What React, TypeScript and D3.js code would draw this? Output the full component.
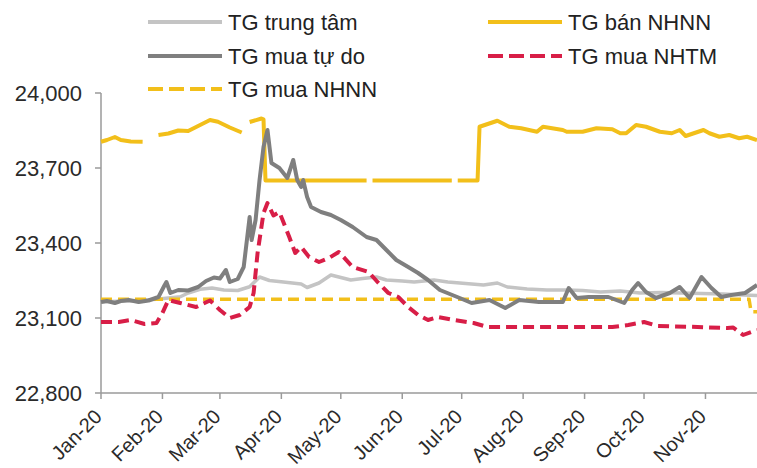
import React from "react";
import * as d3 from "d3";

// ---------- DATA ----------
const monthTicks = ["Jan-20","Feb-20","Mar-20","Apr-20","May-20","Jun-20","Jul-20","Aug-20","Sep-20","Oct-20","Nov-20"];
const yTicks = [22800, 23100, 23400, 23700, 24000];

// TG bán NHNN (null = gap)
const banDates = ["01-01","01-04","01-08","01-11","01-16","01-22","01-26","01-30","02-04","02-09","02-14","02-19","02-25","02-29","03-06","03-12","03-14","03-16","03-22","03-23","03-24","05-14","05-15","05-17","06-26","06-27","06-29","07-09","07-10","07-19","07-25","07-31","08-08","08-11","08-21","08-23","08-31","09-07","09-15","09-19","09-22","09-27","10-02","10-09","10-15","10-19","10-22","10-31","11-03","11-08","11-13","11-18","11-22","11-27"];
const banValues = [23805,23812,23824,23812,23806,23805,null,23832,23838,23850,23848,23868,23892,23885,23862,23842,null,23884,23898,23895,23650,23650,null,23650,23650,null,23650,23650,23865,23889,23865,23859,23845,23865,23852,23845,23845,23859,23855,23839,23839,23872,23865,23845,23839,23852,23828,23852,23839,23825,23832,23819,23825,23812];

// TG trung tâm
const ttDates = ["01-01","01-15","01-29","02-10","02-14","02-20","02-26","03-03","03-10","03-16","03-21","03-26","04-02","04-11","04-14","04-20","04-26","05-06","05-12","05-19","05-24","06-01","06-07","06-17","06-24","06-30","07-12","07-19","07-24","08-03","08-13","08-23","08-31","09-09","09-19","09-29","10-10","10-20","10-30","11-10","11-20","11-27"];
const ttValues = [23165,23168,23175,23185,23200,23215,23220,23212,23210,23225,23264,23250,23244,23236,23222,23240,23272,23252,23258,23264,23252,23248,23244,23252,23244,23240,23232,23240,23224,23216,23212,23212,23210,23204,23208,23200,23202,23200,23198,23196,23192,23190];

// TG mua tự do
const tdDates = ["01-01","01-04","01-08","01-11","01-15","01-20","01-25","01-30","02-02","02-03","02-05","02-09","02-14","02-19","02-23","02-27","03-01","03-04","03-06","03-10","03-13","03-16","03-17","03-19","03-21","03-23","03-25","03-27","03-31","04-04","04-07","04-09","04-11","04-12","04-14","04-16","04-21","04-26","05-01","05-07","05-14","05-19","05-24","05-29","06-04","06-09","06-14","06-20","06-30","07-06","07-15","07-23","07-30","08-09","08-21","08-24","08-28","09-03","09-13","09-21","09-25","09-28","10-02","10-07","10-14","10-19","10-24","10-30","11-04","11-09","11-14","11-21","11-27"];
const tdValues = [23164,23168,23160,23168,23172,23164,23170,23184,23230,23244,23200,23212,23210,23224,23248,23262,23258,23292,23244,23256,23304,23504,23412,23492,23652,23784,23852,23720,23700,23660,23732,23652,23624,23652,23584,23544,23524,23512,23492,23464,23424,23412,23372,23332,23304,23280,23252,23212,23180,23160,23172,23140,23172,23164,23164,23220,23180,23184,23184,23160,23212,23240,23204,23180,23200,23224,23180,23264,23220,23184,23192,23200,23232];

// TG mua NHNN
const muaNhnnDates = ["01-01","11-23","11-24","11-27"];
const muaNhnnValues = [23175,23175,23125,23125];

// TG mua NHTM
const nhtmDates = ["01-01","01-10","01-16","01-23","01-29","02-01","02-04","02-10","02-18","02-25","03-01","03-06","03-11","03-16","03-18","03-20","03-23","03-25","03-28","03-31","04-05","04-08","04-11","04-15","04-20","04-25","04-30","05-07","05-15","05-20","05-25","05-30","06-04","06-09","06-14","06-19","06-27","07-07","07-14","08-15","09-15","09-23","10-01","10-08","10-28","11-12","11-15","11-20","11-24","11-27"];
const nhtmValues = [23084,23084,23092,23076,23080,23120,23172,23160,23144,23170,23132,23100,23112,23144,23200,23360,23520,23560,23510,23524,23424,23360,23384,23344,23324,23340,23364,23304,23284,23240,23200,23184,23144,23112,23092,23104,23092,23080,23064,23064,23064,23072,23084,23068,23064,23060,23062,23032,23044,23052];

// ---------- CHART ----------
const FONT = "'Liberation Sans', Arial, sans-serif";
const GOLD = "#F2BF1A";
const RED = "#D81E47";
const DARK = "#7F7F7F";
const LIGHT = "#C4C4C4";

const parse = d3.timeParse("%Y-%m-%d");
const toDate = (s: string) => parse("2020-" + s) as Date;

const x = d3.scaleTime().domain([new Date(2020, 0, 1), new Date(2020, 10, 27)]).range([101, 757]);
const y = d3.scaleLinear().domain([22800, 24000]).range([393, 93]);

type Pt = { d: Date; v: number | null };
const mk = (ds: string[], vs: (number | null)[]): Pt[] => ds.map((s, i) => ({ d: toDate(s), v: vs[i] }));

const line = d3
  .line<Pt>()
  .defined((p) => p.v != null)
  .x((p) => x(p.d))
  .y((p) => y(p.v as number));

const series = [
  { key: "ban", data: mk(banDates, banValues), color: GOLD, width: 4, dash: undefined },
  { key: "tt", data: mk(ttDates, ttValues), color: LIGHT, width: 3.5, dash: undefined },
  { key: "mnhnn", data: mk(muaNhnnDates, muaNhnnValues), color: GOLD, width: 3.5, dash: "11 6" },
  { key: "td", data: mk(tdDates, tdValues), color: DARK, width: 4, dash: undefined },
  { key: "nhtm", data: mk(nhtmDates, nhtmValues), color: RED, width: 4, dash: "11 6" },
];

const legend = [
  { label: "TG trung tâm", color: LIGHT, dash: undefined, lx: 148, ly: 22 },
  { label: "TG mua tự do", color: DARK, dash: undefined, lx: 148, ly: 56 },
  { label: "TG mua NHNN", color: GOLD, dash: "15 6", lx: 148, ly: 89 },
  { label: "TG bán NHNN", color: GOLD, dash: undefined, lx: 488, ly: 22 },
  { label: "TG mua NHTM", color: RED, dash: "15 6", lx: 488, ly: 56 },
];

export default function App() {
  const months = d3.timeMonth.range(new Date(2020, 0, 1), new Date(2020, 11, 1));
  return (
    <svg width={757} height={468} style={{ position: "absolute", left: 0, top: 0, background: "#fff" }} fontFamily={FONT}>
      <rect width={757} height={468} fill="#fff" />
      {/* y axis */}
      <line x1={101} x2={101} y1={y(24000)} y2={y(22800)} stroke="#9a9a9a" strokeWidth={1.5} />
      {yTicks.map((t) => (
        <g key={t}>
          <line x1={95} x2={101} y1={y(t)} y2={y(t)} stroke="#9a9a9a" strokeWidth={1.5} />
          <text x={82} y={y(t)} dy="0.36em" textAnchor="end" fontSize={22} fill="#2a2a2a">
            {d3.format(",")(t)}
          </text>
        </g>
      ))}
      {/* x axis */}
      <line x1={101} x2={757} y1={393} y2={393} stroke="#9a9a9a" strokeWidth={1.5} />
      {months.map((m, i) => (
        <g key={i}>
          <line x1={x(m)} x2={x(m)} y1={393} y2={399} stroke="#9a9a9a" strokeWidth={1.5} />
          <text
            transform={`translate(${x(m) + 2},${418}) rotate(-45)`}
            textAnchor="end"
            fontSize={20}
            fill="#2a2a2a"
          >
            {monthTicks[i]}
          </text>
        </g>
      ))}
      {/* lines */}
      {series.map((s) => (
        <path
          key={s.key}
          d={line(s.data) || ""}
          fill="none"
          stroke={s.color}
          strokeWidth={s.width}
          strokeDasharray={s.dash}
          strokeLinejoin="round"
        />
      ))}
      {/* legend */}
      {legend.map((l) => (
        <g key={l.label}>
          <line x1={l.lx} x2={l.lx + 74} y1={l.ly} y2={l.ly} stroke={l.color} strokeWidth={4} strokeDasharray={l.dash} />
          <text x={l.lx + 80} y={l.ly} dy="0.36em" fontSize={22} fill="#222">
            {l.label}
          </text>
        </g>
      ))}
    </svg>
  );
}
